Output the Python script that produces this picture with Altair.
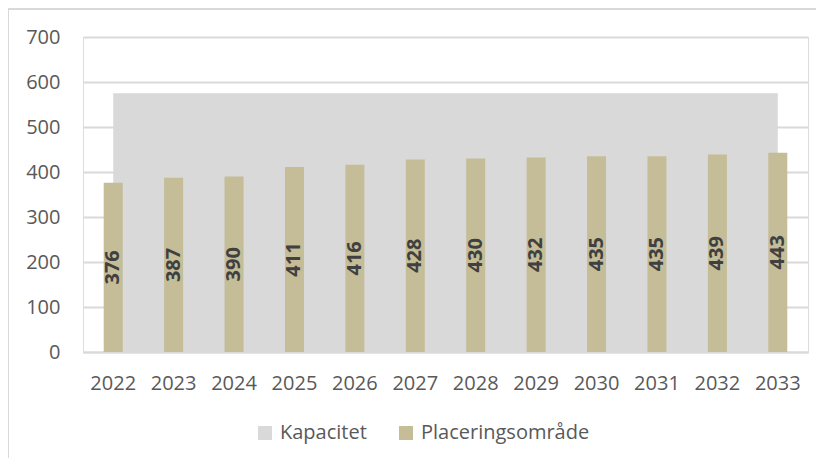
import altair as alt
import pandas as pd

years = ["2022", "2023", "2024", "2025", "2026", "2027", "2028", "2029", "2030", "2031", "2032", "2033"]
placering = [376, 387, 390, 411, 416, 428, 430, 432, 435, 435, 439, 443]
kapacitet = [575, 575, 575, 575, 575, 575, 575, 575, 575, 575, 575, 575]
series_names = ["Kapacitet", "Placeringsområde"]
series_colors = ["#d9d9d9", "#c4bd97"]
y_ticks = [0, 100, 200, 300, 400, 500, 600, 700]

df = pd.DataFrame({"year": years, "kap": kapacitet, "plac": placering})

FONT = "Open Sans"
W, H = 725, 315

x_enc = alt.X(
    "year:N",
    sort=years,
    scale=alt.Scale(paddingInner=0, paddingOuter=0),
    axis=alt.Axis(
        title=None, labelAngle=0, ticks=False, domain=True, domainColor="#d9d9d9",
        domainWidth=2, labelPadding=21, labelFontSize=20, labelColor="#595959",
        labelFont=FONT, grid=False,
    ),
)
y_scale = alt.Scale(domain=[0, 700], nice=False)
y_axis = alt.Axis(
    title=None, values=y_ticks, ticks=False, domain=False, grid=True,
    gridColor="#d9d9d9", gridWidth=2, labelPadding=23, labelFontSize=20,
    labelColor="#595959", labelFont=FONT,
)
color_enc = alt.Color(
    "series:N",
    scale=alt.Scale(domain=series_names, range=series_colors),
    legend=alt.Legend(
        title=None, orient="none", direction="horizontal", legendX=172, legendY=386,
        symbolType="square", symbolSize=196, symbolStrokeWidth=0, labelFontSize=20,
        labelFont=FONT, labelColor="#595959", labelOffset=5, columnPadding=29,
        labelLimit=400,
    ),
)

base = alt.Chart(df)

border = alt.Chart(pd.DataFrame({"a": [0]})).mark_rect(
    fillOpacity=0, stroke="#d9d9d9", strokeWidth=2
).encode(
    x=alt.value(-75), x2=alt.value(800), y=alt.value(-28), y2=alt.value(480)
)

area = base.transform_calculate(series="'Kapacitet'").mark_area(opacity=1).encode(
    x=x_enc,
    y=alt.Y("kap:Q", scale=y_scale, axis=y_axis),
    color=color_enc,
)

bars = base.transform_calculate(series="'Placeringsområde'").mark_bar(size=19).encode(
    x=x_enc,
    y=alt.Y("plac:Q", scale=y_scale, axis=y_axis),
    color=color_enc,
)

labels = base.transform_calculate(mid="datum.plac / 2").mark_text(
    angle=270, font=FONT, fontSize=20, fontWeight="bold", color="#404040",
    align="center", baseline="middle",
).encode(
    x=x_enc,
    y=alt.Y("mid:Q", scale=y_scale, axis=y_axis),
    text=alt.Text("plac:Q"),
)

chart = alt.layer(border, area, bars, labels).properties(
    width=W, height=H,
    autosize=alt.AutoSizeParams(type="none"),
    padding={"left": 75, "top": 29, "right": 8, "bottom": 106},
).configure_view(stroke=None).configure(background="white")

chart.save("out.html", embed_options={"renderer": "svg", "actions": False})
